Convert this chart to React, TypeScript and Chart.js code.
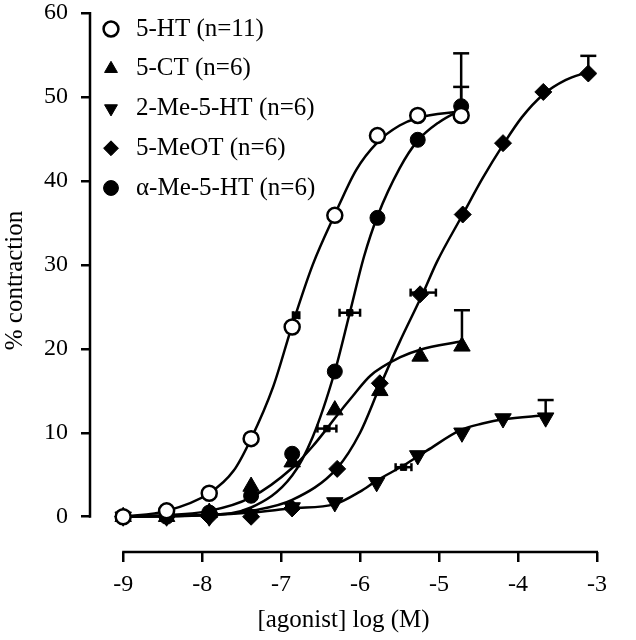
import React, { useEffect, useRef } from "react";
import { Chart, registerables } from "chart.js";

Chart.register(...registerables);

// ---- tick labels ----
const xTickValues = [-9, -8, -7, -6, -5, -4, -3];
const yTickValues = [0, 10, 20, 30, 40, 50, 60];

// ---- legend labels ----
const seriesLabels = [
  "5-HT (n=11)",
  "5-CT (n=6)",
  "2-Me-5-HT (n=6)",
  "5-MeOT (n=6)",
  "α-Me-5-HT (n=6)",
];

// ---- 5-HT (open circles) ----
const x5HT = [-9, -8.45, -7.91, -7.38, -6.86, -6.32, -5.78, -5.27, -4.72];
const y5HT = [0, 0.7, 2.8, 9.3, 22.6, 35.9, 45.4, 47.8, 47.8];
const err5HT = [0, 0, 0, 0, 0, 0, 0, 0, 3.4];

// ---- 5-CT (triangles) ----
const x5CT = [-9, -8.45, -7.91, -7.38, -6.86, -6.32, -5.75, -5.24, -4.71];
const y5CT = [0, 0, 0.5, 3.6, 6.5, 12.7, 15.0, 19.1, 20.3];
const err5CT = [0, 0, 0, 0, 0, 0, 0, 0, 4.3];

// ---- 2-Me-5-HT (inverted triangles) ----
const x2Me = [-9, -8.45, -7.91, -7.38, -6.86, -6.32, -5.79, -5.27, -4.71, -4.19, -3.65];
const y2Me = [0, 0, 0, 0.3, 1.1, 1.7, 4.1, 7.3, 10.0, 11.7, 11.8];
const err2Me = [0, 0, 0, 0, 0, 0, 0, 0, 0, 0, 2.1];

// ---- 5-MeOT (diamonds) ----
const x5MeOT = [-9, -8.45, -7.91, -7.38, -6.86, -6.29, -5.75, -5.24, -4.70, -4.19, -3.68, -3.11];
const y5MeOT = [0, 0, 0, 0, 1.0, 5.7, 15.9, 26.5, 36.0, 44.5, 50.6, 52.8];
const err5MeOT = [0, 0, 0, 0, 0, 0, 0, 0, 0, 0, 0, 2.1];

// ---- alpha-Me-5-HT (filled circles) ----
const xAMe = [-9, -8.45, -7.91, -7.38, -6.86, -6.32, -5.78, -5.27, -4.72];
const yAMe = [0, 0, 0.5, 2.5, 7.5, 17.3, 35.6, 44.9, 48.9];
const errAMe = [0, 0, 0, 0, 0, 0, 0, 0, 6.3];

// ---- fitted curves ----
const fitX5HT = [-9, -8.45, -7.91, -7.6, -7.38, -7.1, -6.86, -6.6, -6.32, -6.05, -5.78, -5.5, -5.27, -4.72];
const fitY5HT = [0, 0.7, 2.8, 5.5, 9.3, 15.5, 22.8, 30, 36, 41.3, 44.6, 46.6, 47.5, 48.3];

const fitX5CT = [-9, -7.91, -7.38, -6.86, -6.6, -6.42, -6.29, -6.1, -5.87, -5.49, -5.24, -4.71];
const fitY5CT = [0, 0.7, 2.3, 5.8, 8.4, 10.5, 12.1, 14.3, 16.8, 19.0, 19.9, 20.9];

const fitX2Me = [-9, -7.91, -7.38, -6.86, -6.32, -6.0, -5.79, -5.45, -5.15, -4.71, -4.45, -4.19, -3.65];
const fitY2Me = [0, 0.2, 0.5, 1.0, 1.5, 3.0, 4.3, 6.1, 7.9, 10.4, 11.1, 11.6, 12.1];

const fitX5MeOT = [-9, -7.91, -7.38, -6.86, -6.29, -6.0, -5.75, -5.5, -5.2, -5.03, -4.70, -4.45, -4.19, -3.95, -3.68, -3.4, -3.11];
const fitY5MeOT = [0, 0.2, 0.7, 2.0, 5.8, 10.0, 15.5, 20.8, 26.7, 30.3, 36.0, 40.3, 44.3, 47.6, 50.3, 52.0, 53.0];

const fitXAMe = [-9, -8, -7.38, -6.86, -6.6, -6.32, -6.13, -5.95, -5.78, -5.5, -5.27, -5, -4.72];
const fitYAMe = [0, 0.2, 1.1, 4.9, 9.5, 17.3, 24.3, 31, 35.8, 41.5, 44.8, 47, 48.5];

// ---- EC50 markers with horizontal error bars ----
const ec50X = [-6.81, -6.42, -5.45, -5.2, -6.13];
const ec50Y = [24.0, 10.5, 5.9, 26.7, 24.3];
const ec50Err = [0.04, 0.12, 0.1, 0.16, 0.13];

const pts = (xs: number[], ys: number[]) => xs.map((x, i) => ({ x, y: ys[i] }));

const errorBarPlugin = {
  id: "errorBars",
  beforeDatasetsDraw(chart: any) {
    const { ctx } = chart;
    const xs = chart.scales.x;
    const ys = chart.scales.y;
    ctx.save();
    ctx.strokeStyle = "#000";
    ctx.lineWidth = 2.5;
    const line = (a: number, b: number, c: number, d: number) => {
      ctx.beginPath();
      ctx.moveTo(a, b);
      ctx.lineTo(c, d);
      ctx.stroke();
    };
    chart.data.datasets.forEach((ds: any) => {
      (ds.data as any[]).forEach((p, i) => {
        if (ds.errUp && ds.errUp[i] > 0) {
          const px = xs.getPixelForValue(p.x);
          const py = ys.getPixelForValue(p.y);
          const pt = ys.getPixelForValue(p.y + ds.errUp[i]);
          line(px, py, px, pt);
          line(px - 8, pt, px + 8, pt);
        }
        if (ds.errX && ds.errX[i] > 0) {
          const pl = xs.getPixelForValue(p.x - ds.errX[i]);
          const pr = xs.getPixelForValue(p.x + ds.errX[i]);
          const py = ys.getPixelForValue(p.y);
          line(pl, py, pr, py);
          line(pl, py - 4, pl, py + 4);
          line(pr, py - 4, pr, py + 4);
        }
      });
    });
    ctx.restore();
  },
  afterDraw(chart: any) {
    const { ctx, chartArea } = chart;
    const xs = chart.scales.x;
    const ys = chart.scales.y;
    ctx.save();
    ctx.strokeStyle = "#000";
    ctx.lineWidth = 2.5;
    ctx.beginPath();
    ctx.moveTo(chartArea.left, ys.getPixelForValue(yTickValues[0]) + 1);
    ctx.lineTo(chartArea.left, ys.getPixelForValue(yTickValues[yTickValues.length - 1]) - 1);
    ctx.stroke();
    ctx.beginPath();
    ctx.moveTo(xs.getPixelForValue(xTickValues[0]) - 1, chartArea.bottom);
    ctx.lineTo(xs.getPixelForValue(xTickValues[xTickValues.length - 1]) + 1, chartArea.bottom);
    ctx.stroke();
    ctx.restore();
  },
};

const FONT = "'Liberation Serif', 'Times New Roman', serif";

export default function App() {
  const ref = useRef<HTMLCanvasElement>(null);

  useEffect(() => {
    Chart.defaults.font.family = FONT;
    Chart.defaults.color = "#000";

    const pointBase = { showLine: false, order: 0, borderColor: "#000" };
    const curve = (xs: number[], ys: number[]) => ({
      data: pts(xs, ys),
      showLine: true,
      pointRadius: 0,
      borderColor: "#000",
      borderWidth: 2.5,
      cubicInterpolationMode: "monotone",
      fill: false,
      order: 1,
    });

    const datasets: any[] = [
      {
        ...pointBase,
        label: seriesLabels[0],
        data: pts(x5HT, y5HT),
        errUp: err5HT,
        pointStyle: "circle",
        pointRadius: 7.5,
        backgroundColor: "#fff",
        borderWidth: 2.5,
      },
      {
        ...pointBase,
        label: seriesLabels[1],
        data: pts(x5CT, y5CT),
        errUp: err5CT,
        pointStyle: "triangle",
        pointRadius: 9.5,
        backgroundColor: "#000",
        borderWidth: 1,
      },
      {
        ...pointBase,
        label: seriesLabels[2],
        data: pts(x2Me, y2Me),
        errUp: err2Me,
        pointStyle: "triangle",
        pointRotation: 180,
        pointRadius: 9.5,
        backgroundColor: "#000",
        borderWidth: 1,
      },
      {
        ...pointBase,
        label: seriesLabels[3],
        data: pts(x5MeOT, y5MeOT),
        errUp: err5MeOT,
        pointStyle: "rectRot",
        pointRadius: 8.5,
        backgroundColor: "#000",
        borderWidth: 1,
      },
      {
        ...pointBase,
        label: seriesLabels[4],
        data: pts(xAMe, yAMe),
        errUp: errAMe,
        pointStyle: "circle",
        pointRadius: 7.5,
        backgroundColor: "#000",
        borderWidth: 1,
      },
      { ...curve(fitX5HT, fitY5HT), label: "fit 5-HT" },
      { ...curve(fitX5CT, fitY5CT), label: "fit 5-CT" },
      { ...curve(fitX2Me, fitY2Me), label: "fit 2-Me-5-HT" },
      { ...curve(fitX5MeOT, fitY5MeOT), label: "fit 5-MeOT" },
      { ...curve(fitXAMe, fitYAMe), label: "fit α-Me-5-HT" },
      {
        ...pointBase,
        label: "EC50",
        data: pts(ec50X, ec50Y),
        errX: ec50Err,
        pointStyle: "rect",
        pointRadius: 4.5,
        backgroundColor: "#000",
        borderWidth: 1,
      },
    ];

    const chart = new Chart(ref.current as HTMLCanvasElement, {
      type: "scatter",
      data: { datasets },
      plugins: [errorBarPlugin],
      options: {
        responsive: false,
        animation: false,
        events: [],
        devicePixelRatio: 1,
        layout: { autoPadding: false, padding: { top: 9, right: 39, bottom: 0, left: 0 } },
        plugins: {
          tooltip: { enabled: false },
          legend: {
            display: true,
            position: "chartArea",
            align: "start",
            title: {
              display: true,
              text: " ",
              font: { size: 1, lineHeight: 1 },
              padding: { top: 3.5, bottom: 3.5 },
            },
            labels: {
              usePointStyle: true,
              boxWidth: 25,
              boxHeight: 10.5,
              padding: 8.5,
              color: "#000",
              font: { size: 25, family: FONT, lineHeight: 1.25 },
              filter: (item: any) => item.datasetIndex < 5,
              generateLabels: (c: any) => {
                const items = (Chart.defaults.plugins.legend.labels as any).generateLabels(c);
                return items.map((it: any) => ({ ...it, text: [it.text] }));
              },
            },
          },
        },
        scales: {
          x: {
            type: "linear",
            min: -9.42,
            max: -3,
            afterBuildTicks: (s: any) => {
              s.ticks = xTickValues.map((v) => ({ value: v }));
            },
            afterFit: (s: any) => {
              s.height = 88;
              s.paddingLeft = 0;
              s.paddingRight = 0;
            },
            ticks: {
              font: { size: 24, family: FONT },
              color: "#000",
              padding: 8,
              autoSkip: false,
              maxRotation: 0,
              callback: (v: any) => String(v),
            },
            grid: {
              display: true,
              drawOnChartArea: false,
              drawTicks: true,
              tickLength: 10,
              color: "#000",
              lineWidth: 2.5,
            },
            border: { display: false },
            title: {
              display: true,
              text: "[agonist] log (M)",
              font: { size: 25, family: FONT },
              color: "#000",
              padding: { top: 0, bottom: 5 },
            },
          },
          y: {
            type: "linear",
            min: -4.2,
            max: 60.48,
            afterBuildTicks: (s: any) => {
              s.ticks = yTickValues.map((v) => ({ value: v }));
            },
            afterFit: (s: any) => {
              s.width = 90;
              s.paddingTop = 0;
              s.paddingBottom = 0;
            },
            ticks: {
              font: { size: 24, family: FONT },
              color: "#000",
              padding: 13,
              callback: (v: any) => String(v),
            },
            grid: {
              display: true,
              drawOnChartArea: false,
              drawTicks: true,
              tickLength: 9,
              color: "#000",
              lineWidth: 2.5,
            },
            border: { display: false },
            title: {
              display: true,
              text: "% contraction",
              font: { size: 25, family: FONT },
              color: "#000",
              padding: { top: 0, bottom: 0 },
            },
          },
        },
      } as any,
    });
    return () => chart.destroy();
  }, []);

  return (
    <div style={{ position: "absolute", left: 0, top: 0, width: 636, height: 640, background: "#fff" }}>
      <canvas ref={ref} width={636} height={640} style={{ display: "block", width: 636, height: 640 }} />
    </div>
  );
}
